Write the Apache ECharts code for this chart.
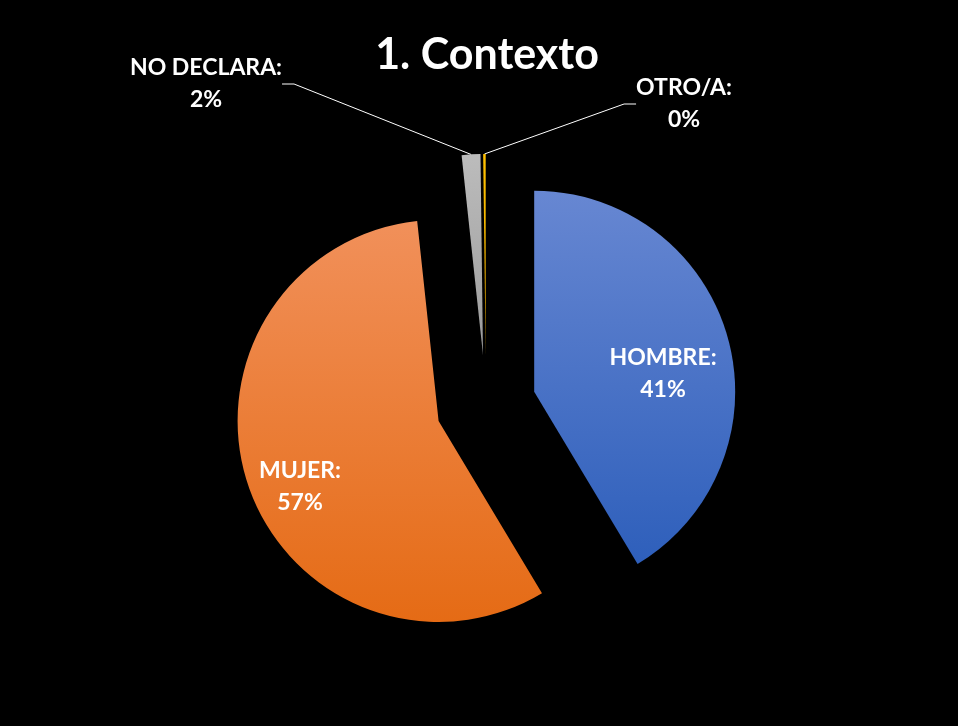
<!DOCTYPE html>
<html>
<head>
<meta charset="utf-8">
<title>1. Contexto</title>
<script src="https://cdn.jsdelivr.net/npm/echarts@6/dist/echarts.min.js"></script>
<style>
  html, body { margin: 0; background: #000; }
  #chart { width: 958px; height: 726px; }
</style>
</head>
<body>
<div id="chart"></div>
<script>
  // data (share of respondents, %)
  const categories = ['HOMBRE', 'MUJER', 'NO DECLARA', 'OTRO/A'];
  const values = [41.4, 56.9, 1.5, 0.2];
  const topColors = ['#6787d2', '#f1905a', '#bcbcbc', '#ffc000'];
  const bottomColors = ['#2e5fbb', '#e56b15', '#9c9c9c', '#e6a800'];

  // where each label sits (centre of the two text lines)
  const labelSpots = [[663, 374], [300, 487], [206, 84], [684, 104]];
  const outside = [false, false, true, true];

  const pieCenter = [486, 405];
  const pieRadius = 201;
  const explode = 50;

  const chart = echarts.init(document.getElementById('chart'));

  // every slice is pulled out along its own middle angle, so each one
  // gets its own pie series with the other slices left invisible
  const total = values.reduce(function (a, b) { return a + b; }, 0);
  let before = 0;
  const series = categories.map(function (name, k) {
    const mid = (before + values[k] / 2) / total * 2 * Math.PI;
    before += values[k];
    return {
      type: 'pie',
      center: [pieCenter[0] + explode * Math.sin(mid), pieCenter[1] - explode * Math.cos(mid)],
      radius: pieRadius,
      startAngle: 90,
      emphasis: { disabled: true },
      label: {
        color: '#fff',
        fontFamily: 'Lato',
        fontWeight: 'bold',
        fontSize: 23,
        lineHeight: 32,
        align: 'center',
        formatter: function (p) {
          return p.name + ':\n' + Math.round(p.percent) + '%';
        }
      },
      labelLine: {
        length: 10,
        length2: 12,
        lineStyle: { color: '#fff', width: 1 }
      },
      labelLayout: function (p) {
        const s = labelSpots[p.dataIndex];
        return { x: s[0], y: s[1], align: 'center', verticalAlign: 'middle' };
      },
      data: categories.map(function (n, i) {
        const own = i === k;
        return {
          name: n,
          value: values[i],
          itemStyle: {
            color: own ? new echarts.graphic.LinearGradient(0, 0, 0, 1, [
              { offset: 0, color: topColors[i] },
              { offset: 1, color: bottomColors[i] }
            ]) : 'rgba(0,0,0,0)'
          },
          label: { show: own },
          labelLine: { show: own && outside[i] }
        };
      })
    };
  });

  const option = {
    backgroundColor: '#000',
    animation: false,
    title: {
      text: '1. Contexto',
      left: 482,
      textAlign: 'center',
      top: 29,
      textStyle: {
        color: '#fff',
        fontFamily: 'Lato',
        fontWeight: 'bold',
        fontSize: 43
      }
    },
    series: series
  };

  chart.setOption(option);
</script>
</body>
</html>
